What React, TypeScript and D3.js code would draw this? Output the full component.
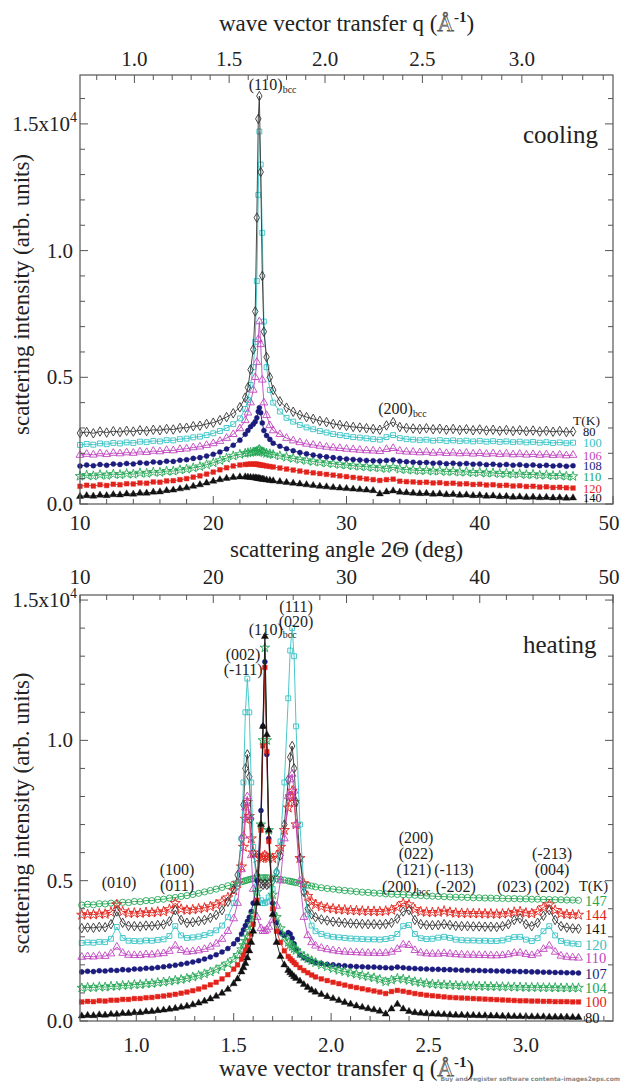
import React from 'react';
import * as d3 from 'd3';

// ---------- cooling panel (x = scattering angle 2Θ, deg) ----------
const coolAngle = [10,10.5,11,11.5,12,12.5,13,13.5,14,14.5,15,15.5,16,16.5,17,17.5,18,18.5,19,19.5,20,20.5,21,21.5,22,
  22.4,22.6,22.8,23,23.15,23.27,23.38,23.46,23.56,23.68,23.8,24,24.25,24.5,
  25,25.5,26,26.5,27,27.5,28,28.5,29,29.5,30,30.5,31,31.5,32,32.5,33,33.5,34,34.5,35,35.5,36,36.5,37,37.5,38,38.5,39,39.5,40,40.5,41,41.5,42,42.5,43,43.5,44,44.5,45,45.5,46,46.5,47];

const cool80 = [2800,2840,2790,2860,2820,2870,2840,2890,2860,2910,2880,2930,2910,2960,2940,3000,3010,3070,3090,3160,3210,3310,3430,3580,3820,
  4200,4600,5300,6100,7600,11300,15200,16100,13100,9000,6800,5800,5000,4500,
  4050,3800,3640,3520,3430,3360,3280,3230,3160,3120,3080,3040,3020,2990,2960,2930,3100,3230,3040,3000,2980,2960,2990,2950,2970,2930,2960,2920,2950,2910,2940,2900,2930,2890,2920,2880,2910,2870,2900,2860,2890,2850,2880,2840,2860];
const cool100 = [2330,2370,2340,2390,2360,2410,2390,2430,2410,2460,2440,2490,2470,2520,2510,2560,2580,2630,2660,2720,2790,2880,3000,3150,3380,
  3750,4100,4700,5400,6400,8800,12200,14700,13400,10700,7200,5400,4500,4000,
  3650,3400,3250,3120,3020,2950,2880,2820,2760,2720,2680,2640,2620,2590,2560,2540,2640,2720,2600,2560,2540,2520,2540,2500,2520,2490,2510,2480,2500,2470,2490,2460,2480,2450,2470,2440,2460,2430,2450,2420,2440,2410,2430,2400,2420];
const cool106 = [1930,1970,1940,1990,1960,2010,1990,2030,2010,2060,2040,2090,2070,2120,2110,2160,2180,2230,2260,2320,2390,2480,2600,2750,2980,
  3300,3600,4000,4500,5000,5600,6500,7200,6300,4900,4000,3500,3100,2900,
  2750,2600,2500,2430,2370,2330,2290,2250,2220,2200,2170,2150,2130,2110,2100,2080,2160,2200,2090,2060,2050,2030,2050,2010,2030,2000,2020,1990,2010,1980,2000,1970,1990,1960,1980,1950,1970,1940,1960,1930,1950,1920,1940,1910,1930];
const cool108 = [1500,1540,1510,1560,1530,1580,1560,1600,1580,1630,1610,1660,1640,1690,1680,1730,1750,1800,1830,1890,1960,2050,2170,2320,2520,
  2750,2900,3050,3150,3250,3400,3650,3800,3600,3200,2900,2700,2550,2400,
  2280,2180,2100,2030,1980,1930,1890,1860,1830,1800,1780,1760,1740,1720,1710,1700,1720,1740,1690,1670,1650,1630,1640,1610,1620,1590,1610,1580,1600,1570,1580,1550,1570,1540,1560,1530,1550,1520,1540,1510,1530,1500,1520,1490,1510];
const cool110 = [1100,1140,1110,1160,1130,1180,1160,1200,1180,1230,1210,1260,1250,1300,1300,1350,1380,1430,1480,1550,1630,1720,1810,1900,1960,
  2000,2020,2040,2050,2060,2080,2120,2150,2100,2060,2030,2000,1980,1950,
  1900,1850,1800,1760,1720,1680,1650,1620,1590,1560,1540,1510,1490,1470,1450,1430,1400,1450,1380,1360,1340,1320,1330,1300,1310,1280,1290,1260,1270,1240,1250,1220,1230,1200,1210,1180,1190,1160,1170,1140,1150,1120,1130,1100,1090];
const cool120 = [700,740,710,760,730,780,760,800,790,830,820,870,860,910,920,960,1000,1060,1110,1180,1260,1350,1430,1500,1540,
  1560,1570,1580,1570,1580,1570,1560,1550,1540,1530,1520,1500,1480,1460,
  1420,1380,1340,1300,1260,1230,1200,1170,1140,1110,1080,1050,1020,990,960,930,960,980,900,880,870,850,860,830,840,810,820,790,800,770,780,750,760,730,740,710,720,690,700,670,680,650,660,640,630];
const cool140 = [300,330,310,350,330,370,360,400,390,430,430,470,480,530,550,600,640,700,760,830,900,960,1010,1050,1070,
  1070,1060,1050,1040,1030,1020,1010,1000,990,980,970,950,930,910,
  880,850,820,790,760,730,700,680,650,630,610,590,570,550,530,400,480,520,470,450,430,410,420,390,400,370,380,350,360,330,340,310,320,290,300,270,280,260,270,250,260,240,250,230,240];

// ---------- heating panel (x = wave vector transfer q, 1/Å) ----------
const heatQ = [0.72,0.75,0.78,0.81,0.84,0.87,0.90,0.93,0.96,0.99,1.02,1.05,1.08,1.11,1.14,1.17,1.20,1.23,1.26,1.29,1.32,1.35,1.38,1.41,1.44,1.47,1.50,
  1.52,1.54,1.55,1.56,1.57,1.58,1.59,1.60,1.62,1.64,1.65,1.66,1.67,1.68,1.70,1.72,1.74,1.76,1.78,1.79,1.80,1.81,1.82,1.84,1.86,1.88,1.90,
  1.92,1.95,1.98,2.01,2.04,2.07,2.10,2.13,2.16,2.19,2.22,2.25,2.28,2.31,2.34,2.37,2.40,2.43,2.46,2.49,2.52,2.55,2.58,2.61,2.64,2.67,2.70,2.73,2.76,2.79,2.82,2.85,2.88,2.91,2.94,2.97,3.00,3.03,3.06,3.09,3.12,3.15,3.18,3.21,3.24,3.27];

const heat147 = [4130,4160,4140,4180,4170,4200,4190,4230,4220,4260,4250,4290,4290,4330,4340,4380,4400,4440,4470,4510,4550,4600,4650,4700,4760,4820,4880,
  4920,4960,4980,5000,5020,5040,5060,5070,5090,5100,5100,5110,5100,5100,5090,5070,5050,5020,4990,4980,4960,4950,4930,4900,4870,4840,4810,
  4780,4750,4720,4700,4670,4650,4630,4610,4590,4580,4560,4550,4530,4520,4510,4500,4490,4480,4470,4460,4450,4440,4430,4420,4410,4410,4400,4390,4390,4380,4380,4370,4370,4360,4360,4350,4350,4340,4340,4330,4330,4320,4320,4310,4310,4300];
const heat144 = [3780,3800,3790,3820,3810,3880,4150,3900,3840,3850,3840,3870,3860,3890,3900,3980,4200,3990,3950,3970,4000,4030,4080,4150,4250,4400,4650,
  4900,5500,6200,7200,7800,7300,6500,6000,5800,5800,5850,5900,5850,5800,5800,5900,6200,6800,7600,8000,8200,7800,7000,5800,4900,4450,4250,
  4150,4080,4030,4000,3970,3960,3940,3930,3920,3910,3910,3900,3920,3960,4050,4200,4150,3980,3900,3880,3870,3880,3920,3880,3850,3840,3840,3830,3830,3820,3820,3810,3820,3840,3880,3900,3850,3830,3900,4050,4150,3950,3830,3800,3790,3780];
const heat141 = [3310,3330,3320,3350,3340,3450,3900,3500,3390,3380,3370,3400,3390,3420,3440,3550,3950,3600,3500,3520,3560,3600,3680,3780,3950,4250,4700,
  5200,6500,7700,9000,9500,8700,7200,6000,5200,4900,4850,4900,4850,4900,5000,5300,5900,7000,8600,9400,9800,9000,7800,5800,4600,4000,3800,
  3700,3620,3580,3540,3520,3500,3480,3470,3460,3450,3450,3440,3460,3500,3650,3900,3950,3600,3450,3420,3410,3420,3450,3420,3390,3380,3380,3370,3370,3360,3360,3350,3380,3450,3600,3650,3450,3380,3500,3750,3950,3600,3380,3330,3300,3290];
const heat120 = [2780,2800,2790,2820,2810,2930,3350,2960,2860,2850,2840,2870,2860,2890,2910,3030,3380,3050,2960,2980,3010,3060,3130,3230,3400,3700,4200,
  4900,6500,8500,11000,12200,11000,8500,6200,4800,4300,4200,4200,4250,4400,4700,5300,6400,8500,11500,13200,14000,13000,10500,7000,4800,3800,3400,
  3200,3100,3040,3000,2980,2960,2940,2930,2920,2910,2910,2900,2920,2960,3100,3380,3420,3100,2950,2920,2930,2970,3000,2960,2900,2880,2870,2870,2860,2860,2850,2850,2870,2930,2990,3000,2900,2850,2950,3200,3380,3050,2850,2790,2760,2740];
const heat110 = [2280,2300,2290,2320,2310,2400,2640,2420,2350,2340,2340,2370,2360,2390,2410,2490,2680,2520,2460,2480,2510,2560,2640,2750,2920,3200,3650,
  4200,5400,6600,7600,8000,7300,5900,4700,3700,3300,3200,3200,3250,3350,3600,4100,5000,6500,8000,8600,8800,8200,7000,5000,3700,3050,2800,
  2680,2600,2550,2510,2480,2460,2450,2440,2430,2420,2420,2410,2420,2460,2560,2720,2700,2520,2430,2400,2390,2390,2410,2390,2370,2360,2350,2350,2340,2340,2330,2330,2340,2370,2420,2430,2380,2340,2400,2560,2680,2460,2320,2280,2260,2250];
const heat107 = [1750,1770,1760,1790,1780,1810,1800,1830,1820,1850,1850,1880,1880,1910,1930,1960,1990,2020,2060,2100,2150,2210,2280,2360,2460,2580,2750,
  2900,3100,3250,3400,3550,3700,3900,4200,5000,7500,10500,12800,9500,6500,4200,3500,3150,3050,3150,3100,2950,2750,2550,2350,2250,2180,2120,
  2080,2050,2020,2000,1980,1970,1950,1940,1930,1920,1920,1910,1900,1890,1920,1900,1880,1870,1860,1850,1840,1840,1830,1830,1820,1810,1810,1800,1800,1790,1790,1780,1780,1770,1770,1760,1760,1750,1750,1740,1740,1730,1730,1720,1720,1710];
const heat104 = [1180,1200,1190,1220,1210,1240,1240,1270,1270,1300,1300,1330,1340,1370,1390,1420,1450,1480,1520,1570,1620,1680,1750,1830,1930,2050,2200,
  2350,2550,2700,2850,3000,3200,3450,3800,4600,7000,10000,13300,10000,6800,4500,3700,3300,3000,2800,2720,2650,2580,2520,2400,2300,2220,2150,
  2080,2000,1930,1870,1810,1760,1710,1670,1620,1580,1540,1480,1400,1460,1520,1490,1450,1400,1370,1340,1320,1300,1290,1280,1270,1260,1250,1250,1240,1240,1230,1230,1220,1220,1210,1210,1200,1200,1200,1190,1190,1190,1180,1180,1180,1180];
const heat100 = [680,700,690,720,710,740,740,770,770,800,800,830,840,870,890,920,950,990,1030,1080,1140,1210,1290,1380,1500,1650,1850,
  2000,2200,2350,2500,2650,2850,3100,3450,4300,6800,9800,12600,9600,6400,4000,3200,2800,2500,2300,2220,2150,2080,2010,1900,1800,1720,1640,
  1570,1500,1440,1380,1330,1280,1230,1190,1150,1110,1070,1030,980,1050,1090,1060,1020,980,950,920,900,880,860,840,830,820,810,800,790,780,770,760,750,740,730,720,720,710,710,700,700,690,690,690,680,680];
const heat80 = [180,200,190,220,210,240,240,270,270,300,300,330,340,370,390,420,450,490,530,580,640,710,790,880,990,1130,1330,
  1500,1750,1900,2050,2250,2500,2800,3200,4200,7000,10500,13700,10200,6800,3800,2800,2300,2000,1800,1720,1650,1580,1520,1420,1300,1200,1100,
  1030,950,870,800,730,660,600,540,490,440,400,350,250,430,600,430,340,300,280,260,250,240,230,220,210,210,200,200,190,190,180,180,170,170,160,160,160,150,150,150,140,140,140,140,130,130];

// ---------- ticks / labels ----------
const angleTicks = [10, 20, 30, 40, 50];
const qTicks = [1.0, 1.5, 2.0, 2.5, 3.0];
const intensityTicks = [0, 5000, 10000, 15000];
const intensityLabels = ['0.0', '0.5', '1.0', '1.5x10'];

const coolTemps = ['80', '100', '106', '108', '110', '120', '140'];
const heatTemps = ['147', '144', '141', '120', '110', '107', '104', '100', '80'];

const LAMBDA = 1.5406;
const qToAngle = (q: number) => (2 * Math.asin((q * LAMBDA) / (4 * Math.PI)) * 180) / Math.PI;

const SERIF = '"Liberation Serif","Times New Roman",Times,serif';
const INK = '#222';
const AXIS = '#555';

const C = {
  black: '#111111', gray: '#333333', cyan: '#36c2c4', magenta: '#c045bf',
  navy: '#1c1c7e', green: '#22a653', red: '#e2231c',
};

const shapeMap: Record<string, any> = {
  diamond: d3.symbolDiamond, square: d3.symbolSquare, triangle: d3.symbolTriangle,
  circle: d3.symbolCircle, star: d3.symbolStar,
};

type S = { label: string; values: number[]; color: string; text: string; shape: string; filled: boolean; size: number };

const coolSeries: S[] = [
  { label: '80', values: cool80, color: C.gray, text: C.black, shape: 'diamond', filled: false, size: 26 },
  { label: '100', values: cool100, color: C.cyan, text: C.cyan, shape: 'square', filled: false, size: 24 },
  { label: '106', values: cool106, color: C.magenta, text: C.magenta, shape: 'triangle', filled: false, size: 26 },
  { label: '108', values: cool108, color: C.navy, text: C.navy, shape: 'circle', filled: true, size: 20 },
  { label: '110', values: cool110, color: C.green, text: C.green, shape: 'star', filled: false, size: 28 },
  { label: '120', values: cool120, color: C.red, text: C.red, shape: 'square', filled: true, size: 22 },
  { label: '140', values: cool140, color: C.black, text: C.black, shape: 'triangle', filled: true, size: 22 },
];

const heatSeries: S[] = [
  { label: '147', values: heat147, color: C.green, text: C.green, shape: 'circle', filled: false, size: 30 },
  { label: '144', values: heat144, color: C.red, text: C.red, shape: 'star', filled: false, size: 32 },
  { label: '141', values: heat141, color: C.gray, text: C.black, shape: 'diamond', filled: false, size: 26 },
  { label: '120', values: heat120, color: C.cyan, text: C.cyan, shape: 'square', filled: false, size: 24 },
  { label: '110', values: heat110, color: C.magenta, text: C.magenta, shape: 'triangle', filled: false, size: 26 },
  { label: '107', values: heat107, color: C.navy, text: C.navy, shape: 'circle', filled: true, size: 20 },
  { label: '104', values: heat104, color: C.green, text: C.green, shape: 'star', filled: false, size: 28 },
  { label: '100', values: heat100, color: C.red, text: C.red, shape: 'square', filled: true, size: 22 },
  { label: '80', values: heat80, color: C.black, text: C.black, shape: 'triangle', filled: true, size: 22 },
];

// annotation anchors in data coordinates
const coolNotes = [
  { x: 24.45, y: 16350, main: '(110)', sub: 'bcc' },
  { x: 34.2, y: 3550, main: '(200)', sub: 'bcc' },
];
const heatNotes = [
  { x: 0.911, y: 4740, main: '(010)', sub: '' },
  { x: 1.209, y: 5200, main: '(100)', sub: '' },
  { x: 1.209, y: 4630, main: '(011)', sub: '' },
  { x: 2.436, y: 6340, main: '(200)', sub: '' },
  { x: 2.436, y: 5770, main: '(022)', sub: '' },
  { x: 2.425, y: 5200, main: '(121)', sub: '' },
  { x: 2.385, y: 4600, main: '(200)', sub: 'bcc' },
  { x: 2.63, y: 5200, main: '(-113)', sub: '' },
  { x: 2.64, y: 4600, main: '(-202)', sub: '' },
  { x: 2.94, y: 4600, main: '(023)', sub: '' },
  { x: 3.134, y: 5770, main: '(-213)', sub: '' },
  { x: 3.134, y: 5200, main: '(004)', sub: '' },
  { x: 3.134, y: 4600, main: '(202)', sub: '' },
  { x: 1.548, y: 12860, main: '(002)', sub: '' },
  { x: 1.548, y: 12330, main: '(-111)', sub: '' },
  { x: 1.70, y: 13750, main: '(110)', sub: 'bcc' },
  { x: 1.82, y: 14570, main: '(111)', sub: '' },
  { x: 1.82, y: 14040, main: '(020)', sub: '' },
];

const coolX = d3.scaleLinear().domain([10, 50]).range([80, 613]);
const coolY = d3.scaleLinear().domain([0, 16930]).range([504, 75]);
const heatX = d3.scaleLinear().domain([0.711, 3.447]).range([80, 613]);
const heatAngleX = d3.scaleLinear().domain([10, 50]).range([80, 613]);
const heatY = d3.scaleLinear().domain([0, 15180]).range([1021, 595]);

function Curve({ xs, s, xs2px, ys2px }: { xs: number[]; s: S; xs2px: (v: number) => number; ys2px: (v: number) => number }) {
  const n = Math.min(xs.length, s.values.length);
  const pts: [number, number][] = [];
  for (let i = 0; i < n; i++) pts.push([xs2px(xs[i]), ys2px(s.values[i])]);
  const line = d3.line()(pts) || '';
  const sym = d3.symbol().type(shapeMap[s.shape]).size(s.size)() || '';
  return (
    <g>
      <path d={line} fill="none" stroke={s.color} strokeWidth={0.9} />
      {pts.map(([x, y], i) => (
        <path key={i} d={sym} transform={`translate(${x.toFixed(2)},${y.toFixed(2)})`}
          fill={s.filled ? s.color : 'none'} stroke={s.color} strokeWidth={s.filled ? 0.4 : 0.9} />
      ))}
    </g>
  );
}

function Note({ x, y, main, sub, size }: { x: number; y: number; main: string; sub: string; size: number }) {
  return (
    <text x={x} y={y} textAnchor="middle" fontFamily={SERIF} fontSize={size} fill={INK}>
      {main}
      {sub ? <tspan fontSize={size * 0.62} dy={3}>{sub}</tspan> : null}
    </text>
  );
}

function YTicks({ yScale, left, right, maxV }: { yScale: any; left: number; right: number; maxV: number }) {
  const els: any[] = [];
  for (let k = 0; k * 1000 <= maxV; k++) {
    const v = k * 1000;
    const y = yScale(v);
    const len = k % 5 === 0 ? 8 : 5;
    els.push(<line key={'l' + k} x1={left} x2={left + len} y1={y} y2={y} stroke={AXIS} strokeWidth={1} />);
    els.push(<line key={'r' + k} x1={right} x2={right - len} y1={y} y2={y} stroke={AXIS} strokeWidth={1} />);
  }
  return <g>{els}</g>;
}

function YLabels({ yScale }: { yScale: any }) {
  return (
    <g fontFamily={SERIF} fontSize={21} fill={INK}>
      {intensityTicks.map((v, i) => (
        <text key={i} x={i === 3 ? 77 : 73} y={yScale(v) + 7} textAnchor="end">
          {intensityLabels[i]}
          {i === 3 ? <tspan fontSize={14} dy={-9}>4</tspan> : null}
        </text>
      ))}
    </g>
  );
}

function QTitle({ y }: { y: number }) {
  return (
    <text x={346.5} y={y} textAnchor="middle" fontFamily={SERIF} fontSize={23} fill={INK}>
      wave vector transfer q (
      <tspan fill="#fff" stroke="#555" strokeWidth={0.8}>Å</tspan>
      <tspan fontSize={15} fontWeight="bold" dy={-9}>-1</tspan>
      <tspan dy={9}>)</tspan>
    </text>
  );
}

export default function App() {
  const P1 = { l: 80, r: 613, t: 75, b: 504 };
  const P2 = { l: 80, r: 613, t: 595, b: 1021 };

  const coolAngleMinor = d3.range(10, 50.01, 2);
  const qMinor = d3.range(8, 35).map((k) => k / 10).filter((q) => q <= 3.44);

  return (
    <svg width={621} height={1082} style={{ position: 'absolute', left: 0, top: 0, background: '#fff' }}>
      <rect x={0} y={0} width={621} height={1082} fill="#fff" />

      {/* ===== cooling panel ===== */}
      <QTitle y={31} />
      <g fontFamily={SERIF} fontSize={21} fill={INK} textAnchor="middle">
        {qTicks.map((q) => (
          <text key={q} x={coolX(qToAngle(q))} y={66}>{q.toFixed(1)}</text>
        ))}
        {angleTicks.map((a) => (
          <text key={a} x={Math.min(coolX(a), 609)} y={530}>{a}</text>
        ))}
      </g>
      <text x={346.5} y={557} textAnchor="middle" fontFamily={SERIF} fontSize={23} fill={INK}>
        scattering angle 2Θ (deg)
      </text>
      <text transform={`translate(29,${(P1.t + P1.b) / 2 + 5}) rotate(-90)`} textAnchor="middle" fontFamily={SERIF} fontSize={23} fill={INK}>
        scattering intensity (arb. units)
      </text>
      <YLabels yScale={coolY} />

      <g>
        {coolSeries.slice().reverse().map((s) => (
          <Curve key={s.label} xs={coolAngle} s={s} xs2px={coolX} ys2px={coolY} />
        ))}
      </g>

      <rect x={P1.l} y={P1.t} width={P1.r - P1.l} height={P1.b - P1.t} fill="none" stroke={AXIS} strokeWidth={1.2} />
      {coolAngleMinor.map((a) => {
        const len = a % 10 === 0 ? 8 : 5;
        return <line key={'cb' + a} x1={coolX(a)} x2={coolX(a)} y1={P1.b} y2={P1.b - len} stroke={AXIS} />;
      })}
      {qMinor.map((q) => {
        const major = Math.abs(q * 2 - Math.round(q * 2)) < 1e-6;
        const x = coolX(qToAngle(q));
        return <line key={'ct' + q} x1={x} x2={x} y1={P1.t} y2={P1.t + (major ? 8 : 5)} stroke={AXIS} />;
      })}
      <YTicks yScale={coolY} left={P1.l} right={P1.r} maxV={16000} />

      {coolNotes.map((n, i) => (
        <Note key={i} x={coolX(n.x)} y={coolY(n.y)} main={n.main} sub={n.sub} size={16} />
      ))}
      <text x={523} y={143} fontFamily={SERIF} fontSize={25} fill={INK}>cooling</text>

      <g fontFamily={SERIF} fontSize={12.5}>
        <text x={573} y={coolY(cool80[cool80.length - 1]) - 7} fill={INK} fontSize={13.5}>T(K)</text>
        {coolSeries.map((s, i) => (
          <text key={s.label} x={583} y={coolY(s.values[s.values.length - 1]) + 4.5} fill={s.text}>{coolTemps[i]}</text>
        ))}
      </g>

      {/* ===== heating panel ===== */}
      <g fontFamily={SERIF} fontSize={21} fill={INK} textAnchor="middle">
        {angleTicks.map((a) => (
          <text key={a} x={Math.min(heatAngleX(a), 609)} y={584}>{a}</text>
        ))}
        {qTicks.map((q) => (
          <text key={q} x={heatX(q)} y={1052}>{q.toFixed(1)}</text>
        ))}
      </g>
      <QTitle y={1076} />
      <text transform={`translate(29,${(P2.t + P2.b) / 2 + 5}) rotate(-90)`} textAnchor="middle" fontFamily={SERIF} fontSize={23} fill={INK}>
        scattering intensity (arb. units)
      </text>
      <YLabels yScale={heatY} />

      <g>
        {heatSeries.map((s) => (
          <Curve key={s.label} xs={heatQ} s={s} xs2px={heatX} ys2px={heatY} />
        ))}
      </g>

      <rect x={P2.l} y={P2.t} width={P2.r - P2.l} height={P2.b - P2.t} fill="none" stroke={AXIS} strokeWidth={1.2} />
      {coolAngleMinor.map((a) => {
        const len = a % 10 === 0 ? 8 : 5;
        return <line key={'ht' + a} x1={heatAngleX(a)} x2={heatAngleX(a)} y1={P2.t} y2={P2.t + len} stroke={AXIS} />;
      })}
      {qMinor.map((q) => {
        const major = Math.abs(q * 2 - Math.round(q * 2)) < 1e-6;
        const x = heatX(q);
        return <line key={'hb' + q} x1={x} x2={x} y1={P2.b} y2={P2.b - (major ? 8 : 5)} stroke={AXIS} />;
      })}
      <YTicks yScale={heatY} left={P2.l} right={P2.r} maxV={15000} />

      {heatNotes.map((n, i) => (
        <Note key={i} x={heatX(n.x)} y={heatY(n.y)} main={n.main} sub={n.sub} size={16} />
      ))}
      <text x={523} y={653} fontFamily={SERIF} fontSize={25} fill={INK}>heating</text>

      <g fontFamily={SERIF} fontSize={14.5}>
        <text x={579} y={heatY(heat147[heat147.length - 1]) - 9} fill={INK}>T(K)</text>
        {heatSeries.map((s, i) => (
          <text key={s.label + i} x={585} y={heatY(s.values[s.values.length - 1]) + 5.5} fill={s.text}>{heatTemps[i]}</text>
        ))}
      </g>

      <text x={620} y={1081} textAnchor="end" fontFamily="DejaVu Sans, sans-serif" fontSize={6} fontWeight="bold" fill="#888">
        Buy and register software contenta-images2eps.com
      </text>
    </svg>
  );
}
